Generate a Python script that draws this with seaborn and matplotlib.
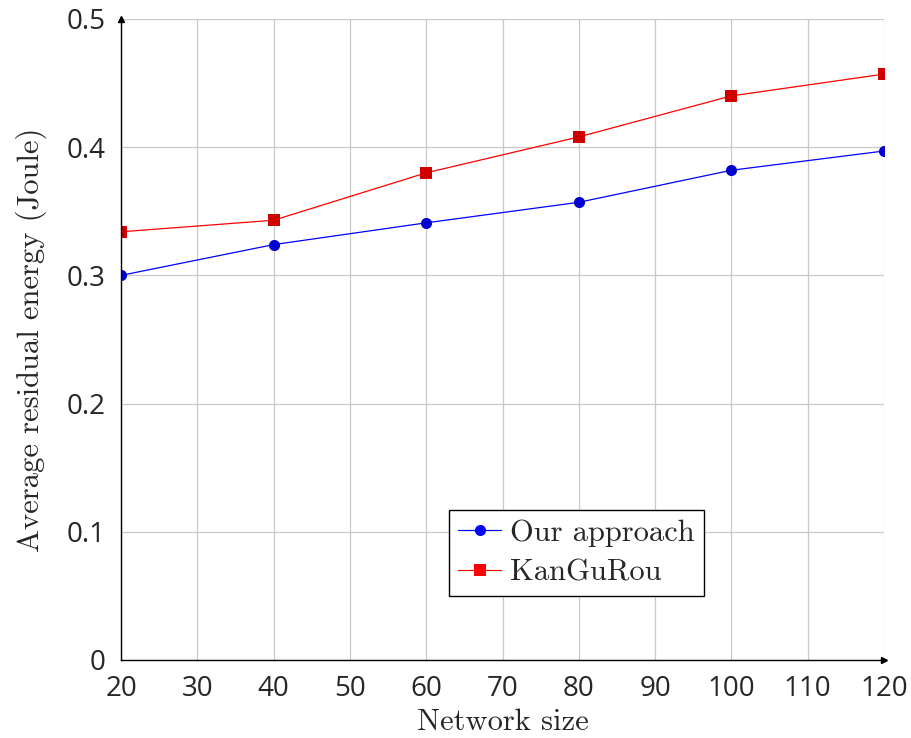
import matplotlib
matplotlib.use("Agg")
import matplotlib.pyplot as plt
import pandas as pd
import seaborn as sns

network_size = [20, 40, 60, 80, 100, 120]
our_approach = [0.300, 0.324, 0.341, 0.357, 0.382, 0.397]
kangurou = [0.334, 0.343, 0.380, 0.408, 0.440, 0.457]
series_names = ["Our approach", "KanGuRou"]

df = pd.DataFrame({
    "Network size": network_size * 2,
    "energy": our_approach + kangurou,
    "method": [series_names[0]] * len(network_size) + [series_names[1]] * len(network_size),
})

sns.set_style("whitegrid")
plt.rcParams["font.family"] = ["Open Sans", "DejaVu Sans"]
plt.rcParams["axes.unicode_minus"] = False

fig, ax = plt.subplots(figsize=(9.12, 7.38), dpi=100)
fig.subplots_adjust(left=0.1327, right=0.9693, bottom=0.1057, top=0.9743)

sns.lineplot(
    data=df, x="Network size", y="energy", hue="method", style="method",
    palette={"Our approach": "#0000ff", "KanGuRou": "#ff0000"},
    markers={"Our approach": "o", "KanGuRou": "s"}, dashes=False,
    linewidth=0.9, markersize=8, markeredgewidth=0, ax=ax,
)
# darker marker fill like pgfplots
for line, fc in zip(ax.lines[:2], ["#0000d0", "#d00000"]):
    line.set_markerfacecolor(fc)

ax.set_xlim(20, 120)
ax.set_ylim(0, 0.5)
ax.set_xticks(range(20, 121, 10))
ax.set_yticks([0, 0.1, 0.2, 0.3, 0.4, 0.5])
ax.set_yticklabels(["0", "0.1", "0.2", "0.3", "0.4", "0.5"])
ax.grid(True, color="#c8c8c8", linewidth=0.9)
ax.tick_params(axis="both", labelsize=20, length=4, direction="inout", color="#444444")
ax.tick_params(axis="x", pad=9)
ax.tick_params(axis="y", pad=9)

for side in ["top", "right"]:
    ax.spines[side].set_visible(False)
for side in ["left", "bottom"]:
    ax.spines[side].set_color("black")
    ax.spines[side].set_linewidth(1.0)
ax.plot(1, 0, ">", color="black", markersize=4, transform=ax.transAxes, clip_on=False)
ax.plot(0, 1, "^", color="black", markersize=4, transform=ax.transAxes, clip_on=False)

ax.set_xlabel("Network size", family="cmr10", fontsize=22, labelpad=4)
ax.set_ylabel("Average residual energy (Joule)", family="cmr10", fontsize=22, labelpad=14)

leg = ax.legend(
    loc="lower left", bbox_to_anchor=(0.43, 0.1), prop={"family": "cmr10", "size": 22},
    frameon=True, fancybox=False, edgecolor="black", framealpha=1, borderaxespad=0,
    handlelength=1.4, handletextpad=0.3, borderpad=0.3, labelspacing=0.4,
)
leg.get_frame().set_linewidth(1.0)

fig.savefig("out.png", dpi=100)
